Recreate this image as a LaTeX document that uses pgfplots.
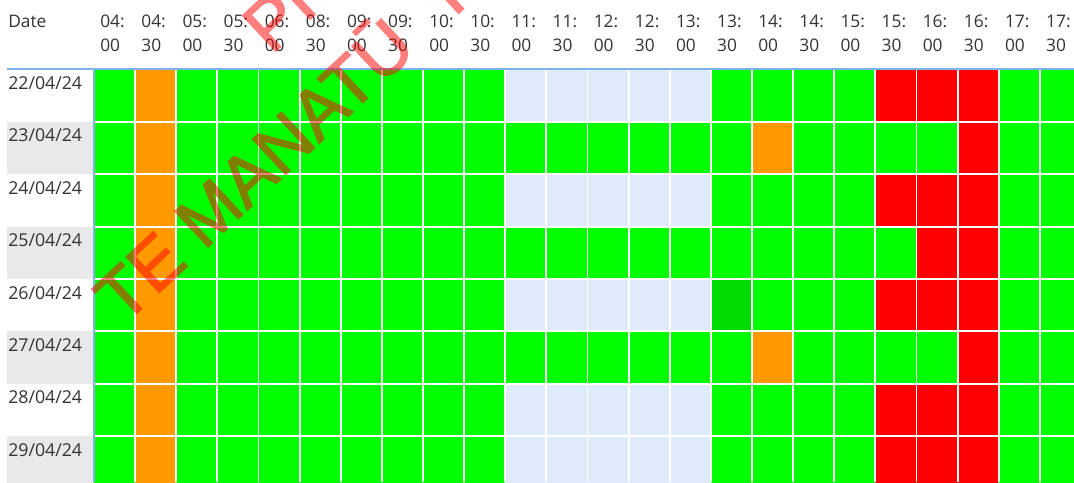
\documentclass[border=0pt]{standalone}
\usepackage{fontspec}
\setmainfont{Open Sans}
\newfontfamily\wmfont{Liberation Sans}[FakeBold=2]
\usepackage{pgfplots}
\pgfplotsset{compat=1.18}
\definecolor{txt}{HTML}{333333}
\definecolor{rowgray}{HTML}{EAE9EA}
\definecolor{bord}{HTML}{7FB2EA}
\begin{document}
\begin{tikzpicture}
% alternating backgrounds of the date column
\fill[rowgray] (-65.25pt,231.0pt) rectangle (-0.75pt,270.2pt);
\fill[rowgray] (-65.25pt,152.2pt) rectangle (-0.75pt,191.5pt);
\fill[rowgray] (-65.25pt,73.6pt) rectangle (-0.75pt,112.9pt);
\fill[rowgray] (-65.25pt,-5pt) rectangle (-0.75pt,34.3pt);
\begin{axis}[
  at={(0,0)}, anchor=south west,
  scale only axis, width=735pt, height=309.5pt,
  xmin=-0.5, xmax=23.33, ymin=-0.5, ymax=7.373, y dir=reverse,
  axis line style={draw=none}, major tick length=0pt, minor tick length=0pt,
  xtick={0,...,23}, ytick={0,...,7},
  xticklabels={{04:\\00},{04:\\30},{05:\\00},{05:\\30},{06:\\00},{08:\\30},{09:\\00},{09:\\30},{10:\\00},{10:\\30},{11:\\00},{11:\\30},{12:\\00},{12:\\30},{13:\\00},{13:\\30},{14:\\00},{14:\\30},{15:\\00},{15:\\30},{16:\\00},{16:\\30},{17:\\00},{17:\\30}},
  yticklabels={22/04/24,23/04/24,24/04/24,25/04/24,26/04/24,27/04/24,28/04/24,29/04/24},
  xticklabel pos=upper,
  xticklabel style={anchor=south west, inner sep=0pt, align=left, xshift=-10.9pt, yshift=13pt, font=\fontsize{13}{18}\selectfont, text=txt},
  yticklabel style={anchor=north west, inner sep=0pt, xshift=-64.5pt, yshift=14.4pt, font=\fontsize{13.3}{18}\selectfont, text=txt},
  minor xtick={0.5,1.5,...,22.5}, minor ytick={0.5,1.5,...,6.5},
  xminorgrids, yminorgrids, minor grid style={white, line width=1.4pt},
  axis on top,
  colormap={cells}{rgb255=(0,255,0) rgb255=(255,153,0) rgb255=(255,0,0) rgb255=(222,235,250) rgb255=(0,220,0)},
  point meta min=0, point meta max=4,
]
\addplot[matrix plot*, mesh/cols=24, mesh/rows=8, point meta=explicit] coordinates {
(0,0)[0] (1,0)[1] (2,0)[0] (3,0)[0] (4,0)[0] (5,0)[0] (6,0)[0] (7,0)[0] (8,0)[0] (9,0)[0] (10,0)[3] (11,0)[3] (12,0)[3] (13,0)[3] (14,0)[3] (15,0)[0] (16,0)[0] (17,0)[0] (18,0)[0] (19,0)[2] (20,0)[2] (21,0)[2] (22,0)[0] (23,0)[0]
(0,1)[0] (1,1)[1] (2,1)[0] (3,1)[0] (4,1)[0] (5,1)[0] (6,1)[0] (7,1)[0] (8,1)[0] (9,1)[0] (10,1)[0] (11,1)[0] (12,1)[0] (13,1)[0] (14,1)[0] (15,1)[0] (16,1)[1] (17,1)[0] (18,1)[0] (19,1)[0] (20,1)[0] (21,1)[2] (22,1)[0] (23,1)[0]
(0,2)[0] (1,2)[1] (2,2)[0] (3,2)[0] (4,2)[0] (5,2)[0] (6,2)[0] (7,2)[0] (8,2)[0] (9,2)[0] (10,2)[3] (11,2)[3] (12,2)[3] (13,2)[3] (14,2)[3] (15,2)[0] (16,2)[0] (17,2)[0] (18,2)[0] (19,2)[2] (20,2)[2] (21,2)[2] (22,2)[0] (23,2)[0]
(0,3)[0] (1,3)[1] (2,3)[0] (3,3)[0] (4,3)[0] (5,3)[0] (6,3)[0] (7,3)[0] (8,3)[0] (9,3)[0] (10,3)[0] (11,3)[0] (12,3)[0] (13,3)[0] (14,3)[0] (15,3)[0] (16,3)[0] (17,3)[0] (18,3)[0] (19,3)[0] (20,3)[2] (21,3)[2] (22,3)[0] (23,3)[0]
(0,4)[0] (1,4)[1] (2,4)[0] (3,4)[0] (4,4)[0] (5,4)[0] (6,4)[0] (7,4)[0] (8,4)[0] (9,4)[0] (10,4)[3] (11,4)[3] (12,4)[3] (13,4)[3] (14,4)[3] (15,4)[4] (16,4)[0] (17,4)[0] (18,4)[0] (19,4)[2] (20,4)[2] (21,4)[2] (22,4)[0] (23,4)[0]
(0,5)[0] (1,5)[1] (2,5)[0] (3,5)[0] (4,5)[0] (5,5)[0] (6,5)[0] (7,5)[0] (8,5)[0] (9,5)[0] (10,5)[0] (11,5)[0] (12,5)[0] (13,5)[0] (14,5)[0] (15,5)[0] (16,5)[1] (17,5)[0] (18,5)[0] (19,5)[0] (20,5)[0] (21,5)[2] (22,5)[0] (23,5)[0]
(0,6)[0] (1,6)[1] (2,6)[0] (3,6)[0] (4,6)[0] (5,6)[0] (6,6)[0] (7,6)[0] (8,6)[0] (9,6)[0] (10,6)[3] (11,6)[3] (12,6)[3] (13,6)[3] (14,6)[3] (15,6)[0] (16,6)[0] (17,6)[0] (18,6)[0] (19,6)[2] (20,6)[2] (21,6)[2] (22,6)[0] (23,6)[0]
(0,7)[0] (1,7)[1] (2,7)[0] (3,7)[0] (4,7)[0] (5,7)[0] (6,7)[0] (7,7)[0] (8,7)[0] (9,7)[0] (10,7)[3] (11,7)[3] (12,7)[3] (13,7)[3] (14,7)[3] (15,7)[0] (16,7)[0] (17,7)[0] (18,7)[0] (19,7)[2] (20,7)[2] (21,7)[2] (22,7)[0] (23,7)[0]
};
\end{axis}
\draw[bord, line width=1.5pt] (-65.25pt,309.5pt) -- (735pt,309.5pt);
\draw[bord, line width=1.2pt] (0,309.5pt) -- (0,0);
\node[anchor=base west, inner sep=0pt, text=txt, font=\fontsize{13}{18}\selectfont] at (-64.5pt,340.5pt) {Date};
% watermark
\begin{scope}[transparency group, opacity=0.5]
\node[rotate=43, anchor=base west, inner sep=0pt, text=red, font=\wmfont\fontsize{53}{53}\selectfont] at (22pt,117pt) {TE MANATŪ\hspace{0.7em}HAUORA};
\node[rotate=43, anchor=base west, inner sep=0pt, text=red, font=\wmfont\fontsize{53}{53}\selectfont] at (133pt,320pt) {PROACTIVELY RELEASED};
\end{scope}
\pgfresetboundingbox
\useasboundingbox (-70.5pt,0pt) rectangle (735pt,361.5pt);
\end{tikzpicture}
\end{document}
